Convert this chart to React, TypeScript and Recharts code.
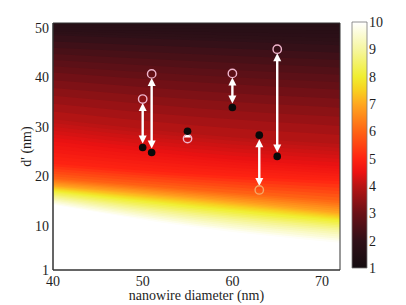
import {
  ComposedChart,
  Area,
  Scatter,
  XAxis,
  YAxis,
  ReferenceLine,
  ReferenceArea,
} from "recharts";

// measured nanowires: diameter, d' before (open circles) and after (black dots)
const diameters = [50, 51, 55, 60, 63, 65];
const dBefore = [35.6, 40.7, 27.6, 40.8, 17.2, 45.7];
const dAfter = [25.8, 24.8, 29.1, 33.9, 28.3, 24.0];
const doubleHeaded = [true, true, false, true, true, true];

const xTicks = [40, 50, 60, 70];
const yTicks = [1, 10, 20, 30, 40, 50];
const cbarTicks = [1, 2, 3, 4, 5, 6, 7, 8, 9, 10];

// background map: d' where the value reaches each level, at three diameters
const gridX = [40, 56, 72];
const contourLevels = [10, 9, 8, 7, 6, 5, 4.5, 4, 3, 2, 1.6];
const contourAt40 = [14.2, 15.6, 17.0, 18.0, 19.5, 22.5, 27.0, 31.5, 41.0, 48.5, 51];
const contourAt56 = [9.6, 11.8, 13.8, 15.4, 17.2, 20.4, 24.0, 28.5, 39.0, 47.5, 51];
const contourAt72 = [6.5, 9.0, 11.0, 12.5, 15.0, 19.0, 22.0, 26.5, 37.5, 46.5, 51];

// colormap (value -> colour)
const cmapLevels = [1, 2, 3, 4, 4.5, 5, 6, 7, 7.5, 8, 9, 10];
const cmapColors = [
  "#140c10", "#301018", "#6a1016", "#b81414", "#ec1212", "#ff2412",
  "#ff6414", "#ffa820", "#f8d020", "#f0ee30", "#f6f6a0", "#ffffff",
];

const OPEN_STROKES = ["#f0b4cc", "#f0b4cc", "#f0b4cc", "#f0b4cc", "#f4a868", "#f0b4cc"];
const FONT = "Liberation Serif";
const TEXT_FILL = "#1e1e1e";

const hex = (c: string) => [1, 3, 5].map((i) => parseInt(c.slice(i, i + 2), 16));
const colorAt = (v: number) => {
  let k = 0;
  while (k < cmapLevels.length - 2 && v > cmapLevels[k + 1]) k++;
  const t = Math.max(0, Math.min(1, (v - cmapLevels[k]) / (cmapLevels[k + 1] - cmapLevels[k])));
  const a = hex(cmapColors[k]);
  const b = hex(cmapColors[k + 1]);
  const rgb = a.map((av, i) => Math.round(av + (b[i] - av) * t));
  return `rgb(${rgb[0]},${rgb[1]},${rgb[2]})`;
};

const contourCols = [contourAt40, contourAt56, contourAt72];
const mapRows = gridX.map((x, i) => {
  const row: any = { x };
  contourLevels.forEach((_, k) => (row["c" + k] = contourCols[i][k]));
  return row;
});

// split each band between contours into thin slices so the fill looks smooth
const STEPS = 6;
const slices: { key: string; lower: (d: any) => number; fill: string }[] = [];
for (let k = 0; k < contourLevels.length - 1; k++) {
  for (let s = 0; s < STEPS; s++) {
    const f = s / STEPS;
    const lvl = contourLevels[k] + (contourLevels[k + 1] - contourLevels[k]) * (s + 0.5) / STEPS;
    slices.push({
      key: `b${k}-${s}`,
      lower: (d: any) => d["c" + k] + (d["c" + (k + 1)] - d["c" + k]) * f,
      fill: colorAt(lvl),
    });
  }
}

const pointsAfter = diameters.map((x, i) => ({ x, y: dAfter[i], i }));
const pointsBefore = diameters.map((x, i) => ({ x, y: dBefore[i], i }));

const tickText = (anchor: "start" | "middle" | "end", dy: string) => (p: any) => (
  <text
    x={p.x}
    y={p.y}
    dy={dy}
    textAnchor={anchor}
    fontFamily={FONT}
    fontSize={14}
    fill={TEXT_FILL}
  >
    {p.payload.value}
  </text>
);

const arrowShape = (twoHeads: boolean) => (props: any) => {
  const { x1, y1, x2, y2 } = props;
  const dx = x2 - x1;
  const dy = y2 - y1;
  const L = Math.hypot(dx, dy) || 1;
  const ux = dx / L;
  const uy = dy / L;
  const gap = Math.min(4, L * 0.25);
  const head = Math.min(8, L * 0.6);
  const hw = 4;
  const tri = (tx: number, ty: number, dx0: number, dy0: number) => {
    const bx = tx - dx0 * head;
    const by = ty - dy0 * head;
    return `${tx},${ty} ${bx - dy0 * hw},${by + dx0 * hw} ${bx + dy0 * hw},${by - dx0 * hw}`;
  };
  const sx = x1 + ux * gap;
  const sy = y1 + uy * gap;
  const ex = x2 - ux * gap;
  const ey = y2 - uy * gap;
  const ls = twoHeads ? head * 0.8 : 0;
  return (
    <g>
      <line
        x1={sx + ux * ls}
        y1={sy + uy * ls}
        x2={ex - ux * head * 0.8}
        y2={ey - uy * head * 0.8}
        stroke="#ffffff"
        strokeWidth={2.4}
      />
      <polygon points={tri(ex, ey, ux, uy)} fill="#ffffff" />
      {twoHeads && <polygon points={tri(sx, sy, -ux, -uy)} fill="#ffffff" />}
    </g>
  );
};

export default function App() {
  return (
    <div style={{ position: "absolute", left: 0, top: 0, width: 406, height: 305, background: "#fff" }}>
      <div style={{ position: "absolute", left: 0, top: 0 }}>
        <ComposedChart
          width={406}
          height={305}
          data={mapRows}
          margin={{ top: 23, right: 66, bottom: 1, left: 0 }}
        >
          {slices.map((sl) => (
            <Area
              key={sl.key}
              type="monotone"
              dataKey={(d: any) => [sl.lower(d), 51]}
              stroke="none"
              fill={sl.fill}
              fillOpacity={1}
              dot={false}
              activeDot={false}
              isAnimationActive={false}
            />
          ))}
          <XAxis
            dataKey="x"
            type="number"
            domain={[40, 72]}
            ticks={xTicks}
            allowDataOverflow
            height={34}
            tickLine={false}
            tickSize={4}
            tickMargin={2}
            axisLine={{ stroke: "#333", strokeWidth: 1 }}
            tick={tickText("middle", "0.71em")}
            label={{
              content: (p: any) => (
                <text
                  x={p.viewBox.x + p.viewBox.width / 2}
                  y={p.viewBox.y + p.viewBox.height - 4}
                  textAnchor="middle"
                  fontFamily={FONT}
                  fontSize={14}
                  fill={TEXT_FILL}
                >
                  nanowire diameter (nm)
                </text>
              ),
            }}
          />
          <YAxis
            type="number"
            domain={[1, 51]}
            ticks={yTicks}
            allowDataOverflow
            width={53}
            tickLine={false}
            tickSize={3}
            tickMargin={1}
            axisLine={{ stroke: "#333", strokeWidth: 1 }}
            tick={tickText("end", "0.355em")}
            label={{
              content: (p: any) => {
                const cx = p.viewBox.x + 26;
                const cy = p.viewBox.y + p.viewBox.height / 2;
                return (
                  <text
                    x={cx}
                    y={cy}
                    dy="0.355em"
                    transform={`rotate(-90, ${cx}, ${cy})`}
                    textAnchor="middle"
                    fontFamily={FONT}
                    fontSize={14}
                    fill={TEXT_FILL}
                  >
                    d' (nm)
                  </text>
                );
              },
            }}
          />
          {diameters.map((d, i) => (
            <ReferenceLine
              key={`arrow-${i}`}
              segment={[
                { x: d, y: dBefore[i] },
                { x: d, y: dAfter[i] },
              ]}
              ifOverflow="visible"
              shape={arrowShape(doubleHeaded[i])}
            />
          ))}
          <Scatter
            data={pointsBefore}
            dataKey="y"
            isAnimationActive={false}
            shape={(p: any) => (
              <circle
                cx={p.cx}
                cy={p.cy}
                r={4.2}
                fill="none"
                stroke={OPEN_STROKES[p.payload?.i ?? 0]}
                strokeWidth={1.4}
              />
            )}
          />
          <Scatter
            data={pointsAfter}
            dataKey="y"
            isAnimationActive={false}
            shape={(p: any) => <circle cx={p.cx} cy={p.cy} r={3.8} fill="#0a0a0a" />}
          />
          <ReferenceArea
            x1={40}
            x2={72}
            y1={1}
            y2={51}
            fill="none"
            stroke="#333"
            strokeWidth={1}
            ifOverflow="visible"
          />
        </ComposedChart>
      </div>
      <div style={{ position: "absolute", left: 340, top: 0 }}>
        <ComposedChart
          width={66}
          height={305}
          data={cbarTicks.map((v) => ({ x: 0.5, v }))}
          margin={{ top: 22, right: 0, bottom: 37, left: 12 }}
        >
          <defs>
            <linearGradient id="cbarGrad" x1="0" y1="0" x2="0" y2="1">
              {cmapLevels
                .map((v, i) => (
                  <stop key={v} offset={(10 - v) / 9} stopColor={cmapColors[i]} />
                ))
                .reverse()}
            </linearGradient>
          </defs>
          <XAxis dataKey="x" type="number" domain={[0, 1]} hide allowDataOverflow />
          <YAxis
            orientation="right"
            type="number"
            domain={[1, 10]}
            ticks={cbarTicks}
            allowDataOverflow
            width={39}
            tickLine={false}
            axisLine={false}
            tickSize={2}
            tickMargin={0}
            tick={tickText("start", "0.355em")}
          />
          <ReferenceArea
            x1={0}
            x2={1}
            y1={1}
            y2={10}
            fill="url(#cbarGrad)"
            fillOpacity={1}
            stroke="#777"
            strokeWidth={0.8}
            ifOverflow="visible"
          />
        </ComposedChart>
      </div>
    </div>
  );
}
